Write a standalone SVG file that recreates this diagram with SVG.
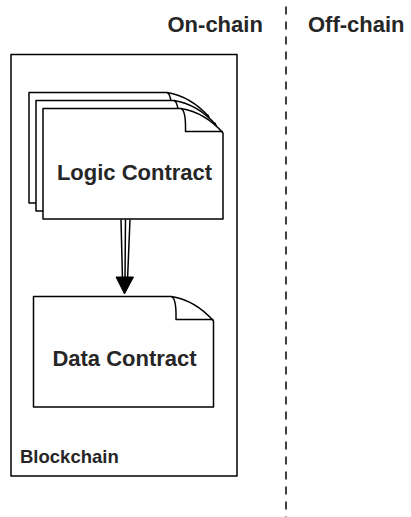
<svg xmlns="http://www.w3.org/2000/svg" width="411" height="517" viewBox="0 0 411 517">
<style>
.t{font-family:"Liberation Sans",Arial,Helvetica,sans-serif;font-weight:bold;fill:#262626}
.s{fill:#fff;stroke:#000;stroke-width:1.5;stroke-linejoin:round}
.f{fill:none;stroke:#000;stroke-width:1.5;stroke-linejoin:round}
</style>
<defs>
<g id="doc">
<path class="s" d="M0,0 H138 Q162,4 180,24.5 V110.5 H0 Z"/>
<path class="f" d="M138,0 Q143,2 142.5,23 H180"/>
</g>
</defs>
<rect width="411" height="517" fill="#fff"/>
<g id="divider">
<line x1="286" y1="6.5" x2="286" y2="517" stroke="#000" stroke-width="1.5" stroke-dasharray="8,7"/>
<text class="t" x="167.5" y="31.7" font-size="22">On-chain</text>
<text class="t" x="308" y="31.7" font-size="22">Off-chain</text>
</g>
<g id="blockchain">
<rect class="s" x="11" y="54.5" width="226" height="421.5"/>
<text class="t" x="20" y="463.3" font-size="18.5">Blockchain</text>
</g>
<g id="logic-contract">
<use href="#doc" x="29" y="92.5"/>
<use href="#doc" x="36" y="100.5"/>
<use href="#doc" x="43" y="108.5"/>
<text class="t" x="134.5" y="180" font-size="22" text-anchor="middle">Logic Contract</text>
</g>
<g id="data-contract">
<use href="#doc" x="33.5" y="296.5"/>
<text class="t" x="124.5" y="365.7" font-size="22" text-anchor="middle">Data Contract</text>
</g>
<g id="connectors">
<path class="f" d="M121,219.5 L122.5,280 M125.5,219.5 L125,280 M130,219.5 L127.5,280"/>
<path d="M116,277 L133.5,277 L124.5,294 Z" fill="#000" stroke="#000" stroke-width="1" stroke-linejoin="round"/>
</g>
</svg>
